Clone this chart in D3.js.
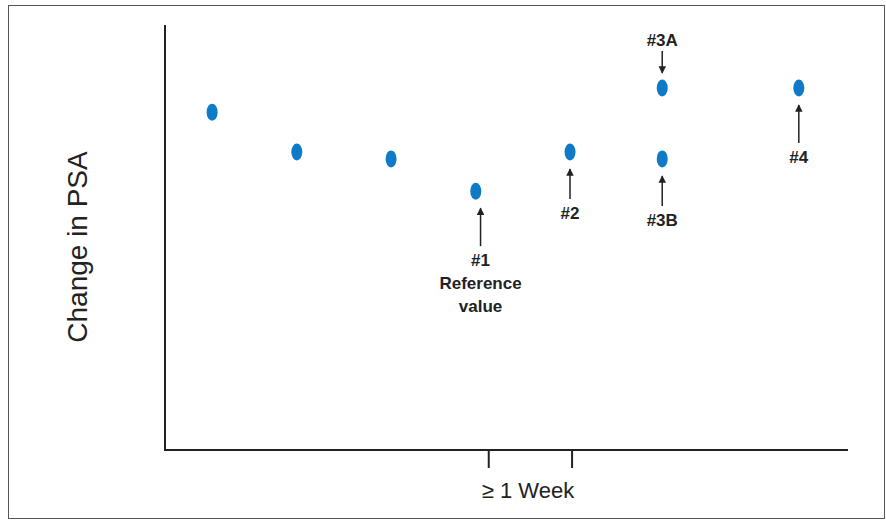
<!DOCTYPE html><html><head><script src="https://cdn.jsdelivr.net/npm/d3@7"></script>
<style>body{margin:0;background:#fff}text{font-family:"Liberation Sans",Arial,sans-serif;fill:#222}</style></head><body>
<svg width="886" height="521"></svg>
<script>
const xs=[6.9,19.3,33.1,45.5,59.3,72.8,72.8,92.8];
const ys=[79.5,70.1,68.5,60.9,70.1,85.2,68.5,85.2];
const tickVals=[47.4,59.6];
const xLabel="≥ 1 Week", yLabel="Change in PSA";
const notes=[
 {x:46.2,y:60.9,dir:"up",len:38,lines:["#1","Reference","value"]},
 {x:59.3,y:70.1,dir:"up",len:30,lines:["#2"]},
 {x:72.8,y:85.2,dir:"down",len:22,lines:["#3A"]},
 {x:72.8,y:68.5,dir:"up",len:30,lines:["#3B"]},
 {x:92.8,y:85.2,dir:"up",len:38,lines:["#4"]}];
const svg=d3.select("svg");
const x=d3.scaleLinear().domain([0,100]).range([165,848]);
const y=d3.scaleLinear().domain([0,100]).range([450,25]);
svg.append("rect").attr("x",8.5).attr("y",5.5).attr("width",876).attr("height",513).attr("fill","none").attr("stroke","#555").attr("stroke-width",1);
svg.append("defs").append("marker").attr("id","ah").attr("viewBox","0 0 10 10").attr("refX",9).attr("refY",5)
 .attr("markerWidth",5).attr("markerHeight",5).attr("orient","auto-start-reverse").append("path").attr("d","M0,0L10,5L0,10z").attr("fill","#222");
svg.append("line").attr("x1",x(0)).attr("x2",x(0)).attr("y1",y(100)).attr("y2",y(0)).attr("stroke","#222").attr("stroke-width",2);
svg.append("line").attr("x1",x(0)-1).attr("x2",x(100)).attr("y1",y(0)).attr("y2",y(0)).attr("stroke","#222").attr("stroke-width",2);
svg.selectAll(".tk").data(tickVals).join("line").attr("x1",d=>x(d)).attr("x2",d=>x(d)).attr("y1",y(0)).attr("y2",y(0)+18).attr("stroke","#222").attr("stroke-width",2);
svg.append("text").attr("x",528).attr("y",498).attr("text-anchor","middle").attr("font-size",22).text(xLabel);
svg.append("text").attr("transform","translate(87,247) rotate(-90)").attr("text-anchor","middle").attr("font-size",28).text(yLabel);
svg.selectAll("ellipse").data(xs).join("ellipse").attr("cx",d=>x(d)).attr("cy",(d,i)=>y(ys[i])).attr("rx",5.5).attr("ry",8.5).attr("fill","#0f7bc8");
notes.forEach(n=>{
 const cx=x(n.x), py=y(n.y);
 if(n.dir==="up"){
  const top=py+17, bot=top+n.len;
  svg.append("line").attr("x1",cx).attr("x2",cx).attr("y1",bot).attr("y2",top).attr("stroke","#222").attr("stroke-width",1.5).attr("marker-end","url(#ah)");
  n.lines.forEach((t,i)=>svg.append("text").attr("x",cx).attr("y",bot+20+i*23).attr("text-anchor","middle").attr("font-size",17).attr("font-weight","bold").text(t));
 } else {
  const bot=py-15, top=bot-n.len;
  svg.append("line").attr("x1",cx).attr("x2",cx).attr("y1",top).attr("y2",bot).attr("stroke","#222").attr("stroke-width",1.5).attr("marker-end","url(#ah)");
  svg.append("text").attr("x",cx).attr("y",top-5).attr("text-anchor","middle").attr("font-size",17).attr("font-weight","bold").text(n.lines[0]);
 }
});
</script></body></html>
